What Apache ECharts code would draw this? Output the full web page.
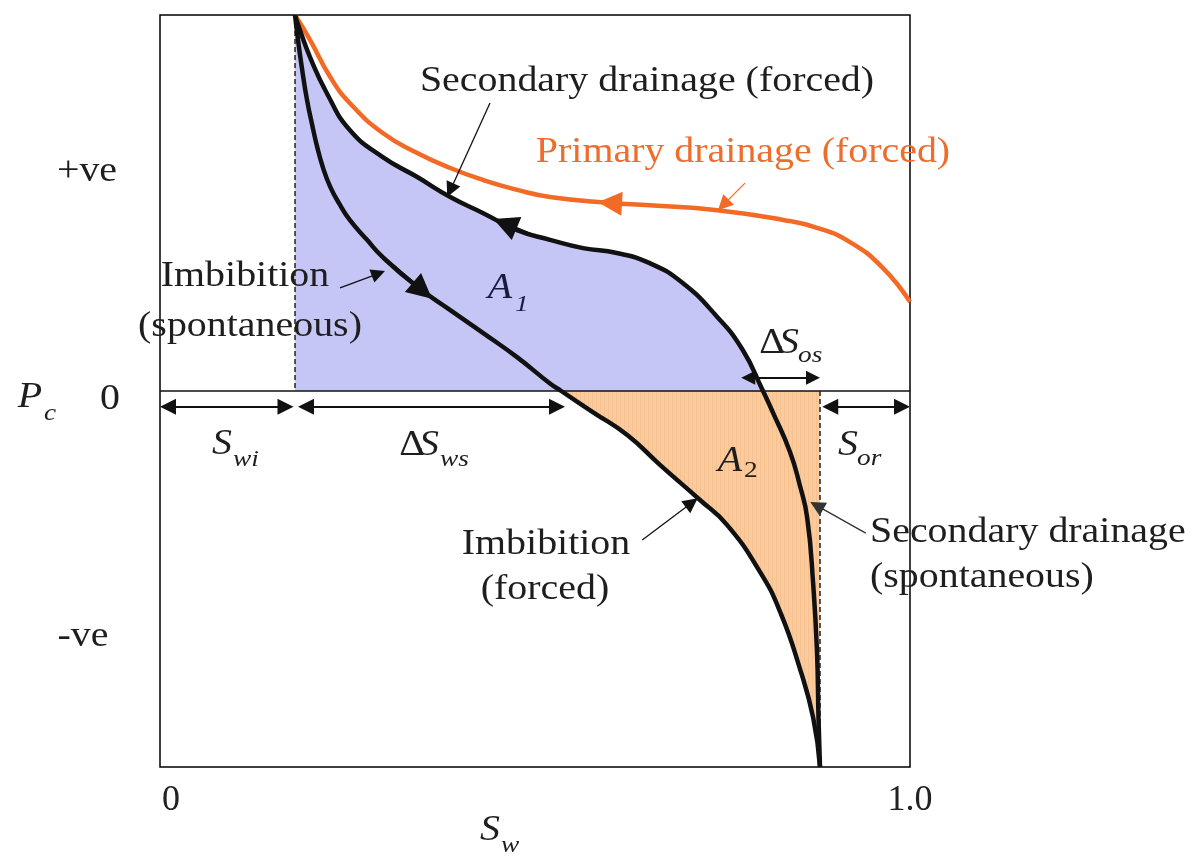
<!DOCTYPE html>
<html><head><meta charset="utf-8">
<script src="https://cdn.jsdelivr.net/npm/echarts@6/dist/echarts.min.js"></script>
<style>html,body{margin:0;padding:0;background:#fff}#c{width:1194px;height:856px}</style>
</head><body><div id="c"></div>
<script>
// ---------- data (Sw, Pc normalised: Pc from -1 (-ve) to +1 (+ve)) ----------
const primaryDrainage = [[0.18,1.0],[0.2,0.934],[0.227,0.835],[0.253,0.766],[0.297,0.686],[0.343,0.633],[0.387,0.593],[0.431,0.561],[0.476,0.535],[0.52,0.516],[0.6,0.5],[0.653,0.494],[0.743,0.481],[0.831,0.455],[0.876,0.434],[0.92,0.396],[0.964,0.327],[1.0,0.237]];
const secondaryDrainage = [[0.18,1.0],[0.184,0.975],[0.2,0.888],[0.223,0.79],[0.253,0.694],[0.297,0.622],[0.343,0.569],[0.387,0.516],[0.431,0.473],[0.476,0.428],[0.52,0.402],[0.564,0.38],[0.609,0.367],[0.653,0.34],[0.697,0.287],[0.743,0.197],[0.777,0.109],[0.804,0.0],[0.817,-0.056],[0.84,-0.162],[0.853,-0.25],[0.863,-0.338],[0.871,-0.516],[0.876,-0.694],[0.878,-0.87],[0.88,-1.0]];
const imbibition = [[0.18,1.0],[0.184,0.934],[0.189,0.862],[0.196,0.774],[0.203,0.707],[0.209,0.654],[0.217,0.596],[0.227,0.543],[0.24,0.495],[0.253,0.455],[0.276,0.402],[0.297,0.356],[0.343,0.277],[0.387,0.215],[0.431,0.154],[0.476,0.09],[0.52,0.02],[0.535,0.0],[0.577,-0.056],[0.623,-0.117],[0.667,-0.197],[0.72,-0.29],[0.756,-0.356],[0.8,-0.481],[0.827,-0.588],[0.853,-0.737],[0.871,-0.87],[0.88,-1.0]];
const swi = 0.18;          // irreducible water saturation
const sorEdge = 0.88;      // 1 - Sor
const imbZero = 0.54;      // imbibition Pc=0 crossing
const drainZero = 0.82;    // start of dSos arrow
const xTickLabels = ['0', '1.0'];
const yTickLabels = ['+ve', '0', '-ve'];
// direction arrows on curves: [point behind, arrow centre]
const primaryArrow = [[0.653, 0.494], [0.6, 0.5]];
const secondaryArrow = [[0.5, 0.412], [0.46, 0.445]];
const imbibitionArrow = [[0.31, 0.335], [0.35, 0.267]];
// annotation pointers: [tail, tip]
const ptrSecForced = [[0.44, 0.766], [0.383, 0.516]];
const ptrPrimary = [[0.78, 0.553], [0.744, 0.481]];
const ptrImbSpont = [[0.24, 0.274], [0.3, 0.319]];
const ptrImbForced = [[0.643, -0.396], [0.717, -0.285]];
const ptrSecSpont = [[0.941, -0.378], [0.867, -0.295]];

// ---------- layout ----------
const W = 1194, H = 856;
const GRID = {left: 160, right: 284, top: 15, bottom: 89};
const X_MIN = 0, X_MAX = 1, Y_MIN = -1, Y_MAX = 1;
const pxX = (W - GRID.left - GRID.right) / (X_MAX - X_MIN);
const pxY = (H - GRID.top - GRID.bottom) / (Y_MAX - Y_MIN);
function pullBack(from, to, px) {
  const dx = (to[0] - from[0]) * pxX, dy = (to[1] - from[1]) * pxY;
  const k = px / Math.hypot(dx, dy);
  return [to[0] - (to[0] - from[0]) * k, to[1] - (to[1] - from[1]) * k];
}
const BLACK = '#111';
const ORANGE = '#f26a26';
const SERIF = '"Liberation Serif", "Times New Roman", serif';
const SX = 1.14;
const LW = 4.5;

function pointer(pair, color, width, size) {
  const tip = pullBack(pair[0], pair[1], size / 2);
  return [{coord: pair[0], symbol: 'none', lineStyle: {color: color, width: width, type: 'solid'}},
          {coord: tip, symbol: 'triangle', symbolSize: size}];
}
function curveArrow(pair, color, size) {
  return [{coord: pair[0], symbol: 'none', lineStyle: {color: color, width: 3, type: 'solid'}},
          {coord: pair[1], symbol: 'triangle', symbolSize: size}];
}
function dbl(x1, x2, y, size) {
  const a = [x1, y], b = [x2, y];
  return [{coord: pullBack(b, a, size / 2), symbol: 'triangle', symbolSize: size, lineStyle: {color: BLACK, width: 2, type: 'solid'}},
          {coord: pullBack(a, b, size / 2), symbol: 'triangle', symbolSize: size}];
}
function vdash(x, y1, y2) {
  return [{coord: [x, y1], symbol: 'none', lineStyle: {color: '#222', width: 1.5, type: [5, 3]}},
          {coord: [x, y2], symbol: 'none'}];
}

const markData = [
  vdash(swi, Y_MAX, 0), vdash(sorEdge, 0, Y_MIN),
  dbl(X_MIN, swi - 0.002, -0.042, 16),
  dbl(swi + 0.004, imbZero, -0.042, 16),
  dbl(sorEdge + 0.003, X_MAX, -0.042, 16),
  dbl(drainZero - 0.045, sorEdge, 0.035, 14),
  pointer(ptrSecForced, BLACK, 1.3, 15),
  pointer(ptrImbSpont, BLACK, 1.3, 14),
  pointer(ptrImbForced, BLACK, 1.3, 15),
  pointer(ptrSecSpont, '#333', 1.3, 15),
  pointer(ptrPrimary, ORANGE, 1.2, 15)
];
const curveArrowData = [
  curveArrow(primaryArrow, ORANGE, 24),
  curveArrow(secondaryArrow, BLACK, 25),
  curveArrow(imbibitionArrow, BLACK, 25)
];

function T(text, x, y, opts) {
  opts = opts || {};
  const size = opts.size || 35;
  return {type: 'text', x: x, y: y, scaleX: SX, z: 100,
    style: {text: text, font: (opts.italic ? 'italic ' : '') + size + 'px ' + SERIF,
      fill: opts.color || '#1e1e1e', align: opts.align || 'center', textAlign: opts.align || 'center',
      verticalAlign: 'middle', textVerticalAlign: 'middle'}};
}
const texts = [
  T('Secondary drainage (forced)', 647, 82),
  T('Primary drainage (forced)', 743, 153, {color: '#ef6d2c'}),
  T('Imbibition', 245, 277),
  T('(spontaneous)', 250, 327),
  T('Imbibition', 546, 545),
  T('(forced)', 545, 590),
  T('Secondary drainage', 870, 533, {align: 'left'}),
  T('(spontaneous)', 870, 578, {align: 'left'}),
  T(yTickLabels[0], 87, 172),
  T(yTickLabels[1], 110, 400),
  T(yTickLabels[2], 83, 637),
  T('P', 30, 398, {italic: true}),
  T('c', 44, 414, {italic: true, size: 24, align: 'left'}),
  T('S', 222, 445, {italic: true}),
  T('wi', 233, 460, {italic: true, size: 24, align: 'left'}),
  T('\u0394', 412, 446),
  T('S', 429, 446, {italic: true}),
  T('ws', 440, 460, {italic: true, size: 24, align: 'left'}),
  T('S', 848, 446, {italic: true}),
  T('or', 857, 459, {italic: true, size: 24, align: 'left'}),
  T('\u0394', 772, 344),
  T('S', 789, 344, {italic: true}),
  T('os', 798, 356, {italic: true, size: 24, align: 'left'}),
  T('A', 500, 289, {italic: true, color: '#1a1a40'}),
  T('1', 515, 305, {italic: true, size: 24, align: 'left', color: '#1a1a40'}),
  T('A', 730, 462, {italic: true}),
  T('2', 744, 471, {size: 24, align: 'left'}),
  T('S', 490, 831, {italic: true}),
  T('w', 501, 846, {italic: true, size: 24, align: 'left'})
];

// faint vertical hatching for the A2 region
const hatch = document.createElement('canvas');
hatch.width = 4; hatch.height = 4;
(function () {
  const g = hatch.getContext('2d');
  g.fillStyle = '#fbcb9e'; g.fillRect(0, 0, 4, 4);
  g.fillStyle = '#f6c08f'; g.fillRect(0, 0, 1, 4);
})();

const SMOOTH = 0.5;
const chart = echarts.init(document.getElementById('c'), null, {renderer: 'canvas'});
chart.setOption({
  animation: false,
  backgroundColor: '#fff',
  grid: {left: GRID.left, right: GRID.right, top: GRID.top, bottom: GRID.bottom, show: true, borderColor: '#000', borderWidth: 1.5, backgroundColor: 'transparent'},
  xAxis: {type: 'value', min: X_MIN, max: X_MAX, interval: 1,
    axisLine: {show: false}, axisTick: {show: false}, splitLine: {show: false},
    axisLabel: {margin: 16, color: '#222', fontFamily: SERIF, fontSize: 36,
      formatter: v => v === 0 ? '{a|' + xTickLabels[0] + '}' : xTickLabels[1],
      rich: {a: {fontFamily: SERIF, fontSize: 36, color: '#222', padding: [0, 0, 0, 22]}}}},
  yAxis: {type: 'value', min: Y_MIN, max: Y_MAX, interval: 1,
    axisLine: {show: false}, axisTick: {show: false}, splitLine: {show: false}, axisLabel: {show: false}},
  graphic: {elements: texts},
  series: [
    {name: 'A1', type: 'line', data: secondaryDrainage.filter(p => p[1] >= 0), smooth: SMOOTH, symbol: 'none',
      lineStyle: {width: 0}, areaStyle: {color: '#c6c6f6', opacity: 1}, z: 1, silent: true},
    {name: 'A2', type: 'line', data: imbibition.filter(p => p[1] <= 0), smooth: SMOOTH, symbol: 'none',
      lineStyle: {width: 0}, areaStyle: {color: {image: hatch, repeat: 'repeat'}, opacity: 1}, z: 1, silent: true},
    {name: 'guides', type: 'line', data: [], z: 3, silent: true,
      markLine: {silent: true, animation: false, label: {show: false}, symbol: ['none', 'none'],
        lineStyle: {color: BLACK, width: 1.5, type: 'solid'},
        data: [[{coord: [X_MIN, 0], symbol: 'none'}, {coord: [X_MAX, 0], symbol: 'none'}]].concat(markData)}},
    {name: 'Primary drainage', type: 'line', data: primaryDrainage, smooth: SMOOTH, symbol: 'none',
      lineStyle: {color: ORANGE, width: LW}, z: 4},
    {name: 'Secondary drainage', type: 'line', data: secondaryDrainage, smooth: SMOOTH, symbol: 'none',
      lineStyle: {color: BLACK, width: LW}, z: 5},
    {name: 'Imbibition', type: 'line', data: imbibition, smooth: SMOOTH, symbol: 'none',
      lineStyle: {color: BLACK, width: LW}, z: 5},
    {name: 'direction arrows', type: 'line', data: [], z: 6, silent: true,
      markLine: {silent: true, animation: false, label: {show: false}, symbol: ['none', 'triangle'],
        data: curveArrowData}}
  ]
});
</script></body></html>
